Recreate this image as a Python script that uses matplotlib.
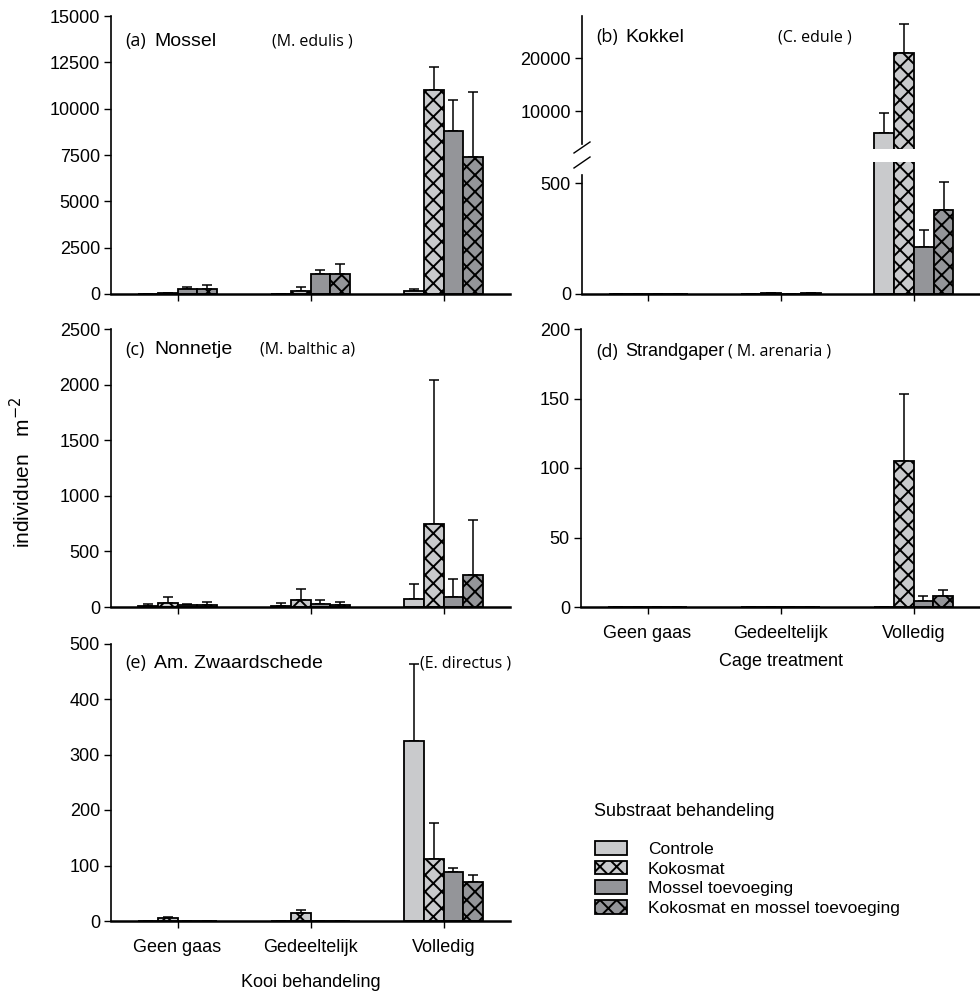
import matplotlib
matplotlib.use("Agg")
import matplotlib.pyplot as plt
from matplotlib.lines import Line2D
import numpy as np

plt.rcParams['font.family'] = ['Liberation Sans', 'DejaVu Sans']
plt.rcParams['hatch.linewidth'] = 1.4

# ---------------- data ----------------
cage = ["Geen gaas", "Gedeeltelijk", "Volledig"]
substrate = ["Controle", "Kokosmat", "Mossel toevoeging", "Kokosmat en mossel toevoeging"]

# (a) Mossel  rows: substrate, cols: cage
mossel_mean = [[15, 15, 183], [30, 183, 11000], [290, 1063, 8800], [290, 1063, 7390]]
mossel_err = [[10, 10, 107], [20, 197, 1250], [110, 232, 1670], [195, 557, 3510]]
# (b) Kokkel
kokkel_mean = [[0, 0, 5850], [0, 4, 21000], [0, 0, 213], [0, 4, 381]]
kokkel_err = [[0, 0, 3770], [0, 2, 5500], [0, 0, 78], [0, 2, 125]]
# (c) Nonnetje
nonnetje_mean = [[12, 9, 72], [36, 63, 746], [15, 27, 86], [21, 18, 284]]
nonnetje_err = [[15, 27, 131], [54, 102, 1294], [12, 39, 162], [24, 24, 498]]
# (d) Strandgaper
strand_mean = [[0, 0, 0], [0, 0, 105], [0, 0, 4], [0, 0, 8]]
strand_err = [[0, 0, 0], [0, 0, 48], [0, 0, 4], [0, 0, 4]]
# (e) Am. Zwaardschede
zwaard_mean = [[0, 0, 324], [5, 14, 112], [0, 0, 88], [0, 0, 71]]
zwaard_err = [[0, 0, 139], [3, 6, 64], [0, 0, 7], [0, 0, 11]]

fills = ["#c9cacc", "#c9cacc", "#949599", "#949599"]
hatches = [None, "xx", None, "xx"]
offsets = [-0.225, -0.075, 0.075, 0.225]
bw = 0.15

W, H = 980, 994
fig = plt.figure(figsize=(W / 100, H / 100), dpi=100)


def ax_px(l, t, r, b):
    return fig.add_axes([l / W, 1 - b / H, (r - l) / W, (b - t) / H])


FS = 13


def style(ax, yticks, ylim, xlabels=False, bottom=True):
    ax.set_xlim(-0.5, 2.5)
    ax.set_ylim(*ylim)
    ax.set_yticks(yticks)
    ax.set_yticklabels([str(v) for v in yticks], fontsize=FS)
    for s in ["top", "right"]:
        ax.spines[s].set_visible(False)
    ax.spines['left'].set_linewidth(1.2)
    ax.spines['bottom'].set_linewidth(1.8)
    ax.tick_params(axis='y', direction='out', length=5, width=1, pad=3)
    ax.tick_params(axis='x', direction='out', length=5, width=1)
    ax.set_xticks(range(len(cage)))
    if xlabels:
        ax.set_xticklabels(cage, fontsize=FS)
        ax.tick_params(axis='x', pad=8)
    else:
        ax.set_xticklabels([])
    if not bottom:
        ax.spines['bottom'].set_visible(False)
        ax.tick_params(axis='x', length=0)


def draw(ax, mean, err):
    handles = []
    x = np.arange(len(cage))
    for i in range(4):
        m = np.array(mean[i], dtype=float)
        e = np.array(err[i], dtype=float)
        h = ax.bar(x + offsets[i], m, bw, color=fills[i], edgecolor="black",
                   linewidth=1.3, hatch=hatches[i], label=substrate[i], zorder=2)
        ax.errorbar(x + offsets[i], m, yerr=[np.zeros_like(e), e], fmt="none",
                    ecolor="black", elinewidth=1.1, capsize=3.5, capthick=1.1, zorder=1)
        handles.append(h)
    return handles


def title(x, y, tag, name, species, sx, nfs=14):
    fig.text(x / W, 1 - y / H, tag, fontsize=13, family=['Open Sans', 'DejaVu Sans'], va='center')
    fig.text((x + 29) / W, 1 - y / H, name, fontsize=nfs, va='center')
    fig.text(sx / W, 1 - y / H, species, fontsize=11.5, family=['Open Sans', 'DejaVu Sans'], va='center')


# (a)
axa = ax_px(111, 16, 510, 294)
draw(axa, mossel_mean, mossel_err)
style(axa, [0, 2500, 5000, 7500, 10000, 12500, 15000], (0, 15000))
title(125, 41, "(a)", "Mossel", "(M. edulis )", 272)

# (b) broken axis
axb_top = ax_px(582, 16, 980, 149)
axb_bot = ax_px(582, 162, 980, 294)
draw(axb_top, kokkel_mean, kokkel_err)
draw(axb_bot, kokkel_mean, kokkel_err)
style(axb_top, [10000, 20000], (2830, 27925), bottom=False)
style(axb_bot, [0, 500], (0, 596))
axb_top.spines['left'].set_bounds(2830 + 1000, 27925)
axb_bot.spines['left'].set_bounds(0, 596 - 60)
for y0, y1 in [(153, 142), (168, 157)]:
    fig.add_artist(Line2D([574 / W, 590 / W], [1 - y0 / H, 1 - y1 / H], color="black", lw=1.0))
title(596, 37, "(b)", "Kokkel", "(C. edule )", 778)

# (c)
axc = ax_px(111, 329, 510, 607)
draw(axc, nonnetje_mean, nonnetje_err)
style(axc, [0, 500, 1000, 1500, 2000, 2500], (0, 2500))
title(125, 350, "(c)", "Nonnetje", "(M. balthic a)", 260)

# (d)
axd = ax_px(581, 329, 980, 607)
draw(axd, strand_mean, strand_err)
style(axd, [0, 50, 100, 150, 200], (0, 200), xlabels=True)
title(596, 352, "(d)", "Strandgaper", "( M. arenaria )", 728, nfs=13)
axd.set_xlabel("Cage treatment", fontsize=FS, labelpad=8)

# (e)
axe = ax_px(111, 643.5, 510, 921)
handles = draw(axe, zwaard_mean, zwaard_err)
style(axe, [0, 100, 200, 300, 400, 500], (0, 500), xlabels=True)
title(125, 663, "(e)", "Am. Zwaardschede", "(E. directus )", 420)
axe.set_xlabel("Kooi behandeling", fontsize=FS, labelpad=13)

fig.text(22 / W, 1 - 472 / H, "individuen   m$^{-2}$", rotation=90, fontsize=15,
         ha='center', va='center')

fig.text(594 / W, 1 - 812 / H, "Substraat behandeling", fontsize=FS, va='center')
leg = fig.legend(handles, substrate, loc='upper left',
                 bbox_to_anchor=(581 / W, 1 - 827 / H), frameon=False,
                 fontsize=12.5, borderpad=0.3,
                 handlelength=1.85, handleheight=0.85, handletextpad=1.2,
                 labelspacing=0.22)

fig.savefig("out.png", dpi=100)
